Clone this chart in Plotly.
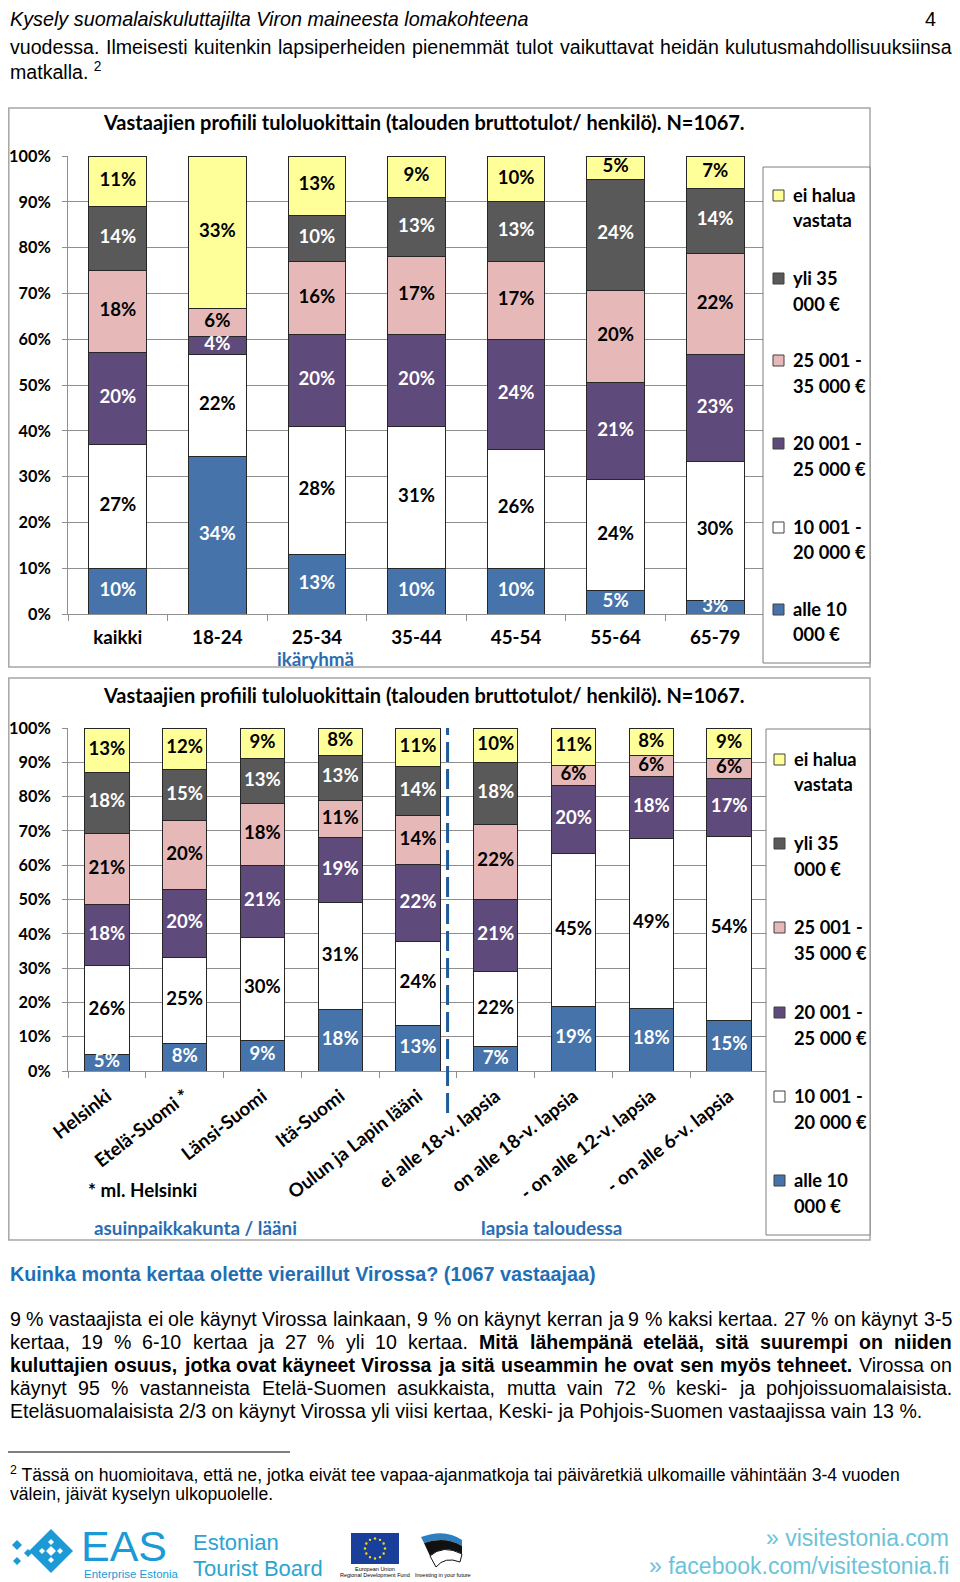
import numpy as np
import plotly.graph_objects as go

# page is 960x1582; the html body adds an 8px margin, so the figure is 952x1574
OFF = 8
FW, FH = 960 - OFF, 1582 - OFF
def px(x): return (x - OFF) / FW
def py(y): return 1 - (y - OFF) / FH

# ---------------- data ----------------
series = ["alle 10 000 €", "10 001 - 20 000 €", "20 001 - 25 000 €",
          "25 001 - 35 000 €", "yli 35 000 €", "ei halua vastata"]
legend_lines = [("alle 10", "000 €"), ("10 001 -", "20 000 €"), ("20 001 -", "25 000 €"),
                ("25 001 -", "35 000 €"), ("yli 35", "000 €"), ("ei halua", "vastata")]

age_groups = ["kaikki", "18-24", "25-34", "35-44", "45-54", "55-64", "65-79"]
age_alle10 = [10, 34, 13, 10, 10, 5, 3]
age_10_20 = [27, 22, 28, 31, 26, 24, 30]
age_20_25 = [20, 4, 20, 20, 24, 21, 23]
age_25_35 = [18, 6, 16, 17, 17, 20, 22]
age_yli35 = [14, 0, 10, 13, 13, 24, 14]
age_eihalua = [11, 33, 13, 9, 10, 5, 7]

reg_groups = ["Helsinki", "Etelä-Suomi *", "Länsi-Suomi", "Itä-Suomi", "Oulun ja Lapin lääni",
              "ei alle 18-v. lapsia", "on alle 18-v. lapsia", "- on alle 12-v. lapsia",
              "- on alle 6-v. lapsia"]
reg_alle10 = [5, 8, 9, 18, 13, 7, 19, 18, 15]
reg_10_20 = [26, 25, 30, 31, 24, 22, 45, 49, 54]
reg_20_25 = [18, 20, 21, 19, 22, 21, 20, 18, 17]
reg_25_35 = [21, 20, 18, 11, 14, 22, 6, 6, 6]
reg_yli35 = [18, 15, 13, 13, 14, 18, 0, 0, 0]
reg_eihalua = [13, 12, 9, 8, 11, 10, 11, 8, 9]

# ---------------- styles ----------------
colors = ["#4674AA", "#FFFFFF", "#5F4A7C", "#E6B9B8", "#595959", "#FFFF99"]
text_colors = ["white", "black", "white", "black", "white", "black"]
CAL = "Lato"
TXT = "Liberation Sans, Arial"
BLUE = "#2A6DB3"
GRID = "#8F8F8F"

fig = go.Figure()

def add_chart(cats, data, xa, ya, bw):
    arr = np.array(data, dtype=float)
    totals = arr.sum(axis=0)
    cum = np.cumsum(arr, axis=0)
    for i in range(len(series)):
        fig.add_trace(go.Bar(x=cats, y=data[i], name=series[i], width=bw,
                             marker=dict(color=colors[i], line=dict(color="#262626", width=1)),
                             xaxis=xa, yaxis=ya, showlegend=False, hoverinfo="skip"))
    for i in range(len(series)):
        mids = (cum[i] - arr[i] / 2) / totals
        keep = [j for j, v in enumerate(data[i]) if v > 0]
        fig.add_trace(go.Scatter(x=[cats[j] for j in keep], y=[mids[j] for j in keep], mode="text",
                                 text=[f"{data[i][j]}%" for j in keep],
                                 textposition="middle center",
                                 textfont=dict(family=CAL, size=18.6, color=text_colors[i], weight="bold"),
                                 xaxis=xa, yaxis=ya, showlegend=False, hoverinfo="skip",
                                 cliponaxis=True))

add_chart(age_groups, [age_alle10, age_10_20, age_20_25, age_25_35, age_yli35, age_eihalua], "x", "y", 0.58)
add_chart(reg_groups, [reg_alle10, reg_10_20, reg_20_25, reg_25_35, reg_yli35, reg_eihalua], "x2", "y2", 0.57)

xcommon = dict(type="category", tickson="boundaries", ticks="outside", ticklen=6, tickcolor=GRID,
               showline=True, linecolor=GRID, linewidth=1, showgrid=False, zeroline=False,
               automargin=False,
               tickfont=dict(family=CAL, size=18.8, color="black", weight="bold"))
ycommon = dict(range=[0, 1], dtick=0.1, tickformat=".0%", ticks="outside", ticklen=5, tickcolor=GRID,
               showline=True, linecolor=GRID, linewidth=1, showgrid=True, gridcolor=GRID, gridwidth=1,
               zeroline=False, ticklabelstandoff=8, automargin=False,
               tickfont=dict(family=CAL, size=16.3, color="black", weight="bold"))

fig.update_layout(
    template="none",
    width=FW, height=FH, autosize=False,
    margin=dict(l=0, r=0, t=0, b=0, pad=0),
    paper_bgcolor="white", plot_bgcolor="white",
    barmode="stack", barnorm="fraction",
    xaxis=dict(domain=[px(68), px(765)], anchor="y", ticklabelstandoff=6, **xcommon),
    yaxis=dict(domain=[py(614), py(156)], anchor="x", **ycommon),
    xaxis2=dict(domain=[px(68), px(768)], anchor="y2", tickangle=-38, ticklabelstandoff=6, **xcommon),
    yaxis2=dict(domain=[py(1071), py(728)], anchor="x2", **ycommon),
)

shapes = []
ann = []

# chart frames
for (t, b) in [(108, 667), (678, 1240)]:
    shapes.append(dict(type="rect", xref="paper", yref="paper", x0=px(8.8), x1=px(870), y0=py(b), y1=py(t),
                       line=dict(color="#A6A6A6", width=1.5), layer="below"))

# legends (manual boxes)
leg_specs = [
    dict(box=(763, 870, 167, 663), sq_x=773, tx=791, ys=[609, 527, 443, 360, 278, 195]),
    dict(box=(766, 870, 729, 1235), sq_x=774, tx=792, ys=[1180, 1096, 1012, 927, 843, 759]),
]
for spec in leg_specs:
    x0, x1, t, b = spec["box"]
    shapes.append(dict(type="rect", xref="paper", yref="paper", x0=px(x0), x1=px(x1), y0=py(b), y1=py(t),
                       line=dict(color="#7F7F7F", width=1), fillcolor="white"))
    for i in range(len(series)):
        yc = spec["ys"][i]
        shapes.append(dict(type="rect", xref="paper", yref="paper",
                           x0=px(spec["sq_x"]), x1=px(spec["sq_x"] + 11), y0=py(yc + 6), y1=py(yc - 5),
                           fillcolor=colors[i], line=dict(color="#404040", width=1)))
        for k, line in enumerate(legend_lines[i]):
            ann.append(dict(xref="paper", yref="paper", x=px(spec["tx"]), y=py(yc + 25.5 * k),
                            text=line, showarrow=False, xanchor="left", yanchor="middle",
                            font=dict(family=CAL, size=18.3, color="black", weight="bold")))

# dashed separator in chart 2
shapes.append(dict(type="line", xref="x2", yref="paper", x0=4.38, x1=4.38, y0=py(1113), y1=py(728),
                   line=dict(color="#1F5C99", width=3, dash="20px,7px")))

# chart titles and axis captions
title = "Vastaajien profiili tuloluokittain (talouden bruttotulot/ henkilö). N=1067."
for yt in (122, 695):
    ann.append(dict(xref="paper", yref="paper", x=px(424), y=py(yt), text=title, showarrow=False,
                    xanchor="center", yanchor="middle", font=dict(family=CAL, size=20, color="black", weight="bold")))
ann.append(dict(xref="paper", yref="paper", x=px(315), y=py(658), text="ikäryhmä", showarrow=False,
                xanchor="center", yanchor="middle", font=dict(family=CAL, size=18.8, color=BLUE, weight="bold")))
ann.append(dict(xref="paper", yref="paper", x=px(86), y=py(1189), text="* ml. Helsinki", showarrow=False,
                xanchor="left", yanchor="middle", font=dict(family=CAL, size=18.8, color="black", weight="bold")))
ann.append(dict(xref="paper", yref="paper", x=px(195), y=py(1227), text="asuinpaikkakunta / lääni", showarrow=False,
                xanchor="center", yanchor="middle", font=dict(family=CAL, size=18.8, color=BLUE, weight="bold")))
ann.append(dict(xref="paper", yref="paper", x=px(551), y=py(1227), text="lapsia taloudessa", showarrow=False,
                xanchor="center", yanchor="middle", font=dict(family=CAL, size=18.8, color=BLUE, weight="bold")))

# ---------------- page text ----------------
def ptext(x, y, text, size=17, color="black", anchor="left", style="normal", family=TXT, weight="normal"):
    ann.append(dict(xref="paper", yref="paper", x=px(x), y=py(y), text=text, showarrow=False,
                    xanchor=anchor, yanchor="middle",
                    font=dict(family=family, size=size, color=color, style=style, weight=weight)))

# Arial / Liberation Sans advance widths (per 1000 em)
REG = {" ": 278, "%": 889, "(": 333, ")": 333, ",": 278, "-": 333, ".": 278, "/": 278, ":": 278, "?": 556,
       "A": 667, "B": 667, "C": 722, "D": 722, "E": 667, "F": 611, "G": 778, "H": 722, "I": 278, "J": 500,
       "K": 667, "L": 556, "M": 833, "N": 722, "O": 778, "P": 667, "R": 722, "S": 667, "T": 611, "U": 722,
       "V": 667, "W": 944, "Y": 667,
       "a": 556, "b": 556, "c": 500, "d": 556, "e": 556, "f": 278, "g": 556, "h": 556, "i": 222, "j": 222,
       "k": 500, "l": 222, "m": 833, "n": 556, "o": 556, "p": 556, "q": 556, "r": 333, "s": 500, "t": 278,
       "u": 556, "v": 500, "w": 722, "x": 500, "y": 500, "z": 500, "ä": 556, "ö": 556}
BLD = dict(REG)
BLD.update({"A": 722, "B": 722, "J": 556, "K": 722, "L": 611, "b": 611, "c": 556, "d": 611, "f": 333,
            "g": 611, "h": 611, "i": 278, "j": 278, "k": 556, "l": 278, "m": 889, "n": 611, "o": 611,
            "p": 611, "q": 611, "r": 389, "s": 556, "t": 333, "u": 611, "v": 556, "w": 778, "x": 556,
            "y": 556, "ä": 556, "ö": 611})

def wunits(word, bold):
    tab = BLD if bold else REG
    return sum(tab.get(c, 556) for c in word)

def justified(y, segments, size, x0=8, x1=950, justify=True):
    words = []
    for txt, bold in segments:
        for w in txt.split():
            words.append((w, bold))
    widths = [wunits(w, b) * size / 1000 for w, b in words]
    space = 278 * size / 1000
    if justify and len(words) > 1:
        gap = ((x1 - x0) - sum(widths)) / (len(words) - 1)
        gap = max(gap, space * 0.6)
    else:
        gap = space
    x = x0
    for (w, b), wd in zip(words, widths):
        ptext(x, y, w, size=size, weight="bold" if b else "normal")
        x += wd + gap

FS = 19.6
ptext(8, 19, "Kysely suomalaiskuluttajilta Viron maineesta lomakohteena", size=19.8, style="italic")
ptext(938, 19, "4", size=19.8, anchor="right")
justified(47, [("vuodessa. Ilmeisesti kuitenkin lapsiperheiden pienemmät tulot vaikuttavat heidän kulutusmahdollisuuksiinsa", False)], FS)
ptext(8, 71, "matkalla. <sup>2</sup>", size=FS)

ptext(8, 1274, "<b>Kuinka monta kertaa olette vieraillut Virossa? (1067 vastaajaa)</b>", size=19.8, color="#1F6FB5")
para = [
    [("9 % vastaajista ei ole käynyt Virossa lainkaan, 9 % on käynyt kerran ja 9 % kaksi kertaa. 27 % on käynyt 3-5", False)],
    [("kertaa, 19 % 6-10 kertaa ja 27 % yli 10 kertaa.", False), ("Mitä lähempänä etelää, sitä suurempi on niiden", True)],
    [("kuluttajien osuus, jotka ovat käyneet Virossa ja sitä useammin he ovat sen myös tehneet.", True), ("Virossa on", False)],
    [("käynyt 95 % vastanneista Etelä-Suomen asukkaista, mutta vain 72 % keski- ja pohjoissuomalaisista.", False)],
]
for k, segs in enumerate(para):
    justified(1319 + 23 * k, segs, FS)
ptext(8, 1411, "Eteläsuomalaisista 2/3 on käynyt Virossa yli viisi kertaa, Keski- ja Pohjois-Suomen vastaajissa vain 13 %.", size=FS)

shapes.append(dict(type="line", xref="paper", yref="paper", x0=px(8), x1=px(290), y0=py(1452), y1=py(1452),
                   line=dict(color="black", width=1)))
ptext(8, 1474, "<sup>2</sup> Tässä on huomioitava, että ne, jotka eivät tee vapaa-ajanmatkoja tai päiväretkiä ulkomaille vähintään 3-4 vuoden", size=17.6)
ptext(8, 1494, "välein, jäivät kyselyn ulkopuolelle.", size=17.6)

# ---------------- footer logos (decorative) ----------------
LB = "#1B9AD6"
def diamond(cx, cy, r, color):
    shapes.append(dict(type="path", xref="paper", yref="paper",
                       path=f"M {px(cx)} {py(cy - r)} L {px(cx + r)} {py(cy)} L {px(cx)} {py(cy + r)} L {px(cx - r)} {py(cy)} Z",
                       fillcolor=color, line=dict(width=0)))
diamond(51, 1551, 22, LB)
for (cx, cy, r) in [(17, 1545, 5), (17, 1561, 4), (28, 1553, 4)]:
    diamond(cx, cy, r, LB)
for (cx, cy, r) in [(51, 1551, 5), (42, 1551, 3), (60, 1551, 3), (51, 1542, 3), (51, 1560, 3)]:
    diamond(cx, cy, r, "white")
ptext(79, 1546, "EAS", size=43, color=LB)
ptext(82, 1574, "Enterprise Estonia", size=11.5, color=LB)
ptext(191, 1542, "Estonian", size=22, color="#2AA5D2")
ptext(191, 1568, "Tourist Board", size=22, color="#2AA5D2")
shapes.append(dict(type="rect", xref="paper", yref="paper", x0=px(351), x1=px(399), y0=py(1564), y1=py(1533),
                   fillcolor="#1A3F9A", line=dict(width=0)))
for k in range(12):
    a = 2 * np.pi * k / 12
    sx, sy = 375 + 10 * np.cos(a), 1548.5 + 10 * np.sin(a)
    shapes.append(dict(type="circle", xref="paper", yref="paper", x0=px(sx - 1.2), x1=px(sx + 1.2),
                       y0=py(sy + 1.2), y1=py(sy - 1.2), fillcolor="#FFDD00", line=dict(width=0)))
ptext(375, 1569, "European Union", size=5.5, anchor="center")
ptext(375, 1575, "Regional Development Fund", size=5.5, anchor="center")
shapes.append(dict(type="path", xref="paper", yref="paper",
                   path=f"M {px(421)} {py(1537)} Q {px(445)} {py(1528)} {px(462)} {py(1540)} L {px(462)} {py(1546)} Q {px(445)} {py(1536)} {px(424)} {py(1543)} Z",
                   fillcolor="#2E7FC0", line=dict(width=0)))
shapes.append(dict(type="path", xref="paper", yref="paper",
                   path=f"M {px(424)} {py(1543)} Q {px(445)} {py(1536)} {px(462)} {py(1546)} L {px(462)} {py(1554)} Q {px(443)} {py(1544)} {px(430)} {py(1556)} Z",
                   fillcolor="#111111", line=dict(width=0)))
shapes.append(dict(type="path", xref="paper", yref="paper",
                   path=f"M {px(430)} {py(1556)} Q {px(443)} {py(1544)} {px(462)} {py(1554)} L {px(460)} {py(1562)} Q {px(445)} {py(1556)} {px(436)} {py(1567)} Z",
                   fillcolor="white", line=dict(color="#111111", width=1)))
ptext(443, 1575, "Investing in your future", size=5.5, anchor="center")
ptext(951, 1538, "» visitestonia.com", size=23, color="#6CC3D8", anchor="right")
ptext(951, 1566, "» facebook.com/visitestonia.fi", size=23, color="#6CC3D8", anchor="right")

fig.update_layout(shapes=shapes, annotations=ann)
fig.write_html("out.html")
